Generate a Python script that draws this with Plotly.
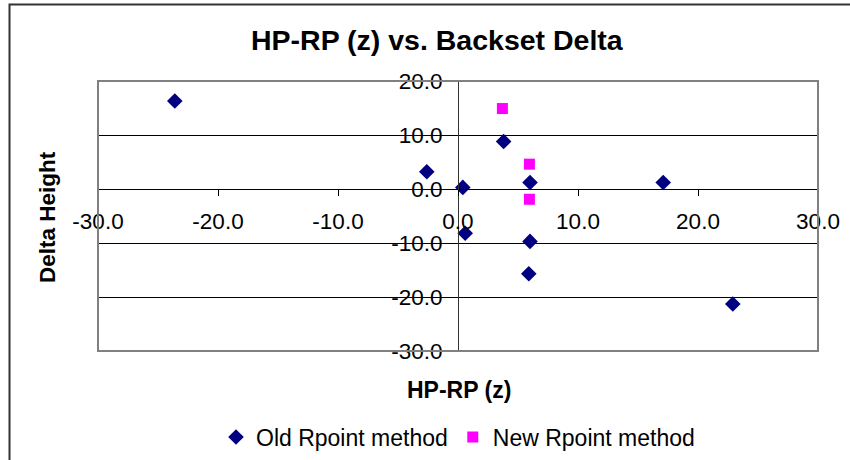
import plotly.graph_objects as go

# Data
old_x = [-23.6, -2.6, 0.4, 0.6, 3.8, 6.0, 6.0, 5.9, 17.1, 22.9]
old_y = [16.3, 3.2, 0.3, -8.2, 8.8, 1.2, -9.7, -15.7, 1.2, -21.3]
new_x = [3.7, 5.95, 5.95]
new_y = [14.9, 4.6, -1.9]

x_ticks = [-30, -20, -10, 0, 10, 20, 30]
x_tick_text = ["-30.0", "-20.0", "-10.0", "0.0", "10.0", "20.0", "30.0"]
y_ticks = [-30, -20, -10, 0, 10, 20]
y_tick_text = ["-30.0", "-20.0", "-10.0", "0.0", "10.0", "20.0"]

FONT = "Arial, Liberation Sans, sans-serif"

fig = go.Figure()
fig.add_trace(go.Scatter(
    x=old_x, y=old_y, mode="markers", name="Old Rpoint method",
    marker=dict(symbol="diamond", size=12, color="#000080", line=dict(width=0)),
))
fig.add_trace(go.Scatter(
    x=new_x, y=new_y, mode="markers", name="New Rpoint method",
    marker=dict(symbol="square", size=11, color="#FF00FF", line=dict(width=0)),
))

W, H = 850, 460
L, R, T, B = 98, 32, 81, 109
pw, ph = W - L - R, H - T - B

fig.update_layout(
    width=W, height=H,
    margin=dict(l=L, r=R, t=T, b=B, autoexpand=False),
    paper_bgcolor="white", plot_bgcolor="white",
    font=dict(family=FONT, size=22, color="black"),
    showlegend=True,
    legend=dict(
        orientation="h", x=(458 - L) / pw, xanchor="center",
        y=(T + ph - 437) / ph, yanchor="middle",
        font=dict(size=23), itemwidth=30, tracegroupgap=0,
        bgcolor="rgba(0,0,0,0)",
    ),
    xaxis=dict(
        range=[-30, 30], tickvals=x_ticks, ticktext=x_tick_text,
        anchor="free", position=0.6,
        showgrid=False, zeroline=False,
        showline=True, linecolor="black", linewidth=1,
        ticks="outside", ticklen=6, tickcolor="black",
        tickfont=dict(size=22.5), ticklabelstandoff=6,
    ),
    yaxis=dict(
        range=[-30, 20], tickvals=y_ticks, ticktext=y_tick_text,
        anchor="free", position=0.5,
        showgrid=True, gridcolor="black", gridwidth=1, zeroline=False,
        showline=True, linecolor="#333333", linewidth=1,
        ticks="outside", ticklen=6, tickcolor="black",
        tickfont=dict(size=22.5), ticklabelstandoff=5,
    ),
    shapes=[
        dict(type="rect", xref="paper", yref="paper", x0=0, x1=1, y0=0, y1=1,
             line=dict(color="#808080", width=2), layer="above"),
        dict(type="rect", xref="paper", yref="paper",
             x0=(9.5 - L) / pw, x1=(W + 20 - L) / pw,
             y0=(T + ph - (H + 20)) / ph, y1=1 + (T - 4.5) / ph,
             line=dict(color="#333333", width=2), layer="above"),
    ],
    annotations=[
        dict(text="<b>HP-RP (z) vs. Backset Delta</b>", xref="paper", yref="paper",
             x=(437 - L) / pw, y=1 + (T - 40) / ph, xanchor="center", yanchor="middle",
             showarrow=False, font=dict(size=28.5)),
        dict(text="<b>HP-RP (z)</b>", xref="paper", yref="paper",
             x=(459 - L) / pw, y=(T + ph - 390) / ph, xanchor="center", yanchor="middle",
             showarrow=False, font=dict(size=23)),
        dict(text="<b>Delta Height</b>", xref="paper", yref="paper",
             x=(47 - L) / pw, y=(T + ph - 217) / ph, xanchor="center", yanchor="middle",
             showarrow=False, textangle=-90, font=dict(size=22.5)),
    ],
)

fig.write_html("out.html", config={"displayModeBar": False},
               post_script="document.body.style.margin='0px';")
